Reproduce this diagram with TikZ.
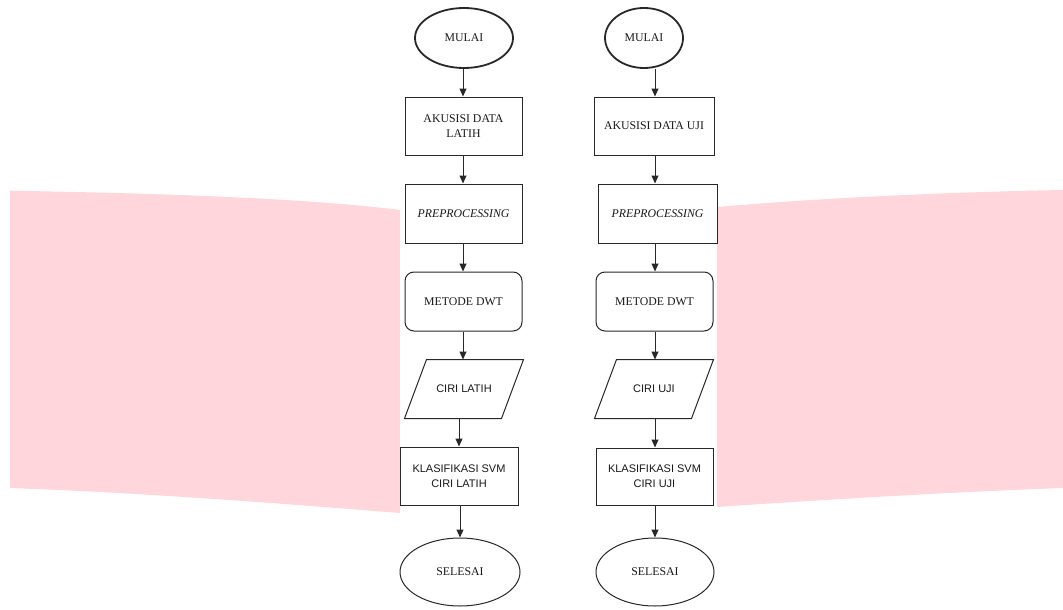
\documentclass[tikz,border=0pt]{standalone}
\usepackage{fontspec}
\setmainfont{Liberation Serif}
\newfontfamily\arialf{Liberation Sans}
\usetikzlibrary{shapes.geometric,arrows.meta,calc}
\definecolor{pinkbg}{RGB}{255,214,219}
\definecolor{ln}{RGB}{40,40,40}
\begin{document}
\begin{tikzpicture}[x=1pt,y=-1pt,
  base/.style={draw=ln, line width=1pt, fill=white, inner sep=2pt, align=center,
    font=\fontsize{11.8}{15}\selectfont, text=black!90},
  sansf/.style={font=\arialf\fontsize{11}{15}\selectfont},
  term/.style={base, ellipse},
  proc/.style={base, rectangle},
  rproc/.style={base, rectangle, rounded corners=9pt},
  io/.style={base, rectangle, draw=none, fill=none},
  para/.style={draw=ln, line width=1pt, fill=white},
  arr/.style={draw=ln, line width=1pt, -{Triangle[length=8pt,width=7pt]}},
  sz/.style 2 args={minimum width=#1pt, minimum height=#2pt}]
\useasboundingbox (0,0) rectangle (1063,610);
\fill[white] (0,0) rectangle (1063,610);
% pink background bands
\fill[pinkbg] (10,190.7) .. controls (200,194) and (320,200) .. (400,210)
  -- (400,513) .. controls (300,505) and (150,493) .. (10,488) -- cycle;
\fill[pinkbg] (717,207) .. controls (820,198) and (950,192) .. (1063,190)
  -- (1063,488) .. controls (950,492) and (820,500) .. (717,507) -- cycle;
% column guides
\coordinate (colL) at (463,0);
\coordinate (colLb) at (460,0);
\coordinate (colR) at (655,0);
% left column
\node[term, sz={98}{60}, line width=1.8pt] (m1) at (464,38) {MULAI};
\node[proc, sz={117}{58}] (a1) at (463.5,126) {AKUSISI DATA\\LATIH};
\node[proc, sz={117}{59}] (p1) at (463.5,213.5) {\textit{PREPROCESSING}};
\node[rproc, sz={117}{59}] (d1) at (463.5,301.5) {METODE DWT};
\node[io, sansf, sz={118}{58}] (c1) at (464,389) {};
\draw[para] ($(c1.north west)+(22,0)$) -- (c1.north east) -- ($(c1.south east)+(-22,0)$) -- (c1.south west) -- cycle;
\node[sansf, text=black!90] (c1t) at (c1.center) {CIRI LATIH};
\node[proc, sansf, sz={118}{58}] (k1) at (459,476) {KLASIFIKASI SVM\\CIRI LATIH};
\node[term, sz={120}{68}] (s1) at (460,572) {SELESAI};
% right column
\node[term, sz={78}{60}, line width=1.8pt] (m2) at (644,38) {MULAI};
\node[proc, sz={120}{58}] (a2) at (654,126) {AKUSISI DATA UJI};
\node[proc, sz={119}{59}] (p2) at (657.5,213.5) {\textit{PREPROCESSING}};
\node[rproc, sz={117}{59}] (d2) at (654.5,301.5) {METODE DWT};
\node[io, sansf, sz={118}{58}] (c2) at (654,389) {};
\draw[para] ($(c2.north west)+(22,0)$) -- (c2.north east) -- ($(c2.south east)+(-22,0)$) -- (c2.south west) -- cycle;
\node[sansf, text=black!90] (c2t) at (c2.center) {CIRI UJI};
\node[proc, sansf, sz={117}{57}] (k2) at (654.5,476.5) {KLASIFIKASI SVM\\CIRI UJI};
\node[term, sz={118}{68}] (s2) at (655,572) {SELESAI};
% arrows left
\draw[arr] (m1.south -| colL) -- (a1.north -| colL);
\draw[arr] (a1.south -| colL) -- (p1.north -| colL);
\draw[arr] (p1.south -| colL) -- (d1.north -| colL);
\draw[arr] (d1.south -| colL) -- (c1.north -| colL);
\draw[arr] (c1.south -| k1.north) -- (k1.north);
\draw[arr] (k1.south -| colLb) -- (s1.north -| colLb);
% arrows right
\draw[arr] (m2.south -| colR) -- (a2.north -| colR);
\draw[arr] (a2.south -| colR) -- (p2.north -| colR);
\draw[arr] (p2.south -| colR) -- (d2.north -| colR);
\draw[arr] (d2.south -| colR) -- (c2.north -| colR);
\draw[arr] (c2.south -| colR) -- (k2.north -| colR);
\draw[arr] (k2.south -| colR) -- (s2.north -| colR);
\end{tikzpicture}
\end{document}
